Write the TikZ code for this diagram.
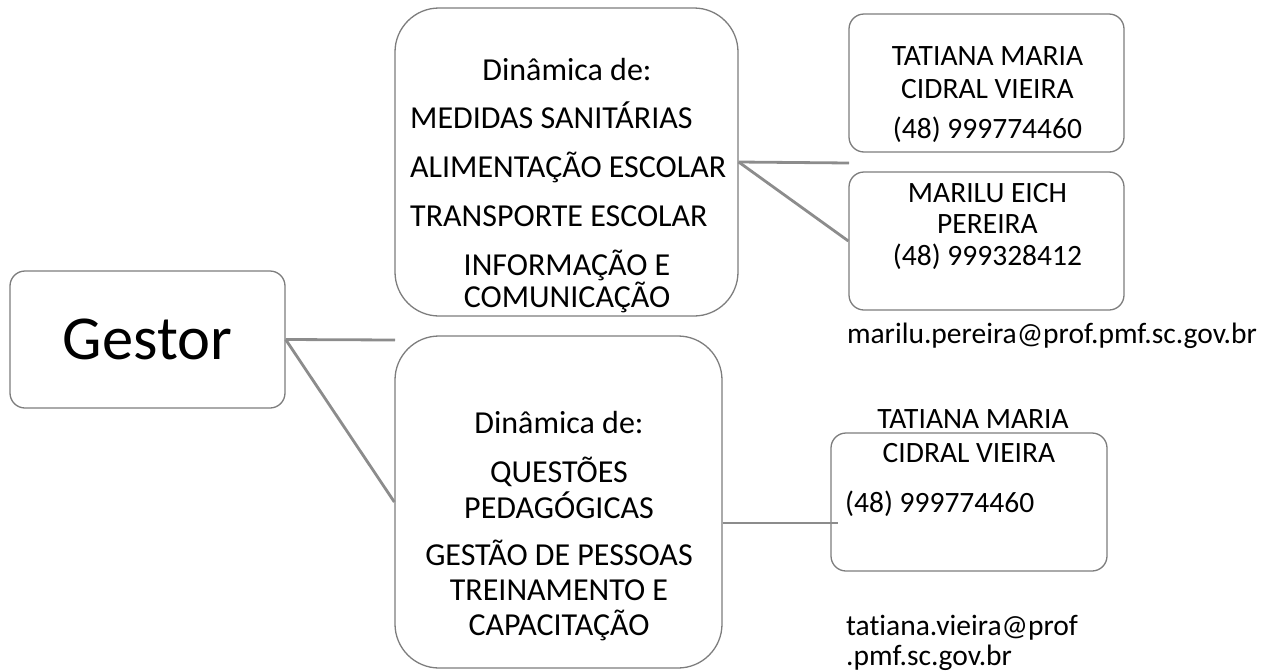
\documentclass[tikz,border=0pt]{standalone}
\usepackage{fontspec}
\setmainfont{Carlito}[Ligatures=NoCommon]
\usetikzlibrary{calc}
\definecolor{boxgray}{RGB}{125,125,125}
\definecolor{linegray}{RGB}{140,140,140}
\tikzset{
  box/.style={draw=boxgray, line width=1.3pt, fill=white, inner sep=0pt, rectangle},
  smallbox/.style={box, rounded corners=15pt},
  bigbox/.style={box, rounded corners=44pt},
  conn/.style={draw=linegray, line width=2.8pt},
  midtxt/.style={anchor=base, inner sep=0pt, font=\fontsize{32}{32}\selectfont},
  midleft/.style={anchor=base west, inner sep=0pt, font=\fontsize{32}{32}\selectfont},
  rtxt/.style={anchor=base, inner sep=0pt, font=\fontsize{29.5}{29.5}\selectfont},
  rleft/.style={anchor=base west, inner sep=0pt, font=\fontsize{29.5}{29.5}\selectfont},
}
\begin{document}
\begin{tikzpicture}[x=1pt, y=-1pt]
\useasboundingbox (0,0) rectangle (1278,670);

% boxes
\node[smallbox, minimum width=275pt, minimum height=137pt, font=\fontsize{62.5}{62.5}\selectfont] (gestor) at (147.5,339.5) {Gestor};
\node[bigbox, minimum width=343pt, minimum height=308pt] (mid1) at (566.5,162) {};
\node[bigbox, minimum width=327pt, minimum height=332pt] (mid2) at (558.5,502) {};
\node[smallbox, minimum width=275pt, minimum height=138pt] (r1) at (986.5,83) {};
\node[smallbox, minimum width=275pt, minimum height=138pt] (r2) at (986.5,241) {};
\node[smallbox, minimum width=276pt, minimum height=138pt] (r3) at (969,502) {};

% connector free ends
\coordinate (e1) at (395,340);
\coordinate (e2) at (849,163);
\coordinate (e3) at (838,523);

% connectors
\draw[conn] (gestor.east) -- (e1);
\draw[conn] (gestor.east) -- (mid2.west);
\draw[conn] (mid1.east) -- (e2);
\draw[conn] (mid1.east) -- (r2.west);
\draw[conn] (mid2.east |- e3) -- (e3);

% top middle box text
\node[midtxt] (m1a) at (567,80) {Dinâmica de:};
\node[midleft] (m1b) at (410,128) {MEDIDAS SANITÁRIAS};
\node[midleft] (m1c) at (410,177) {ALIMENTAÇÃO ESCOLAR};
\node[midleft] (m1d) at (410,226) {TRANSPORTE ESCOLAR};
\node[midtxt] (m1e) at (567,275) {INFORMAÇÃO E};
\node[midtxt] (m1f) at (567,307) {COMUNICAÇÃO};

% bottom middle box text
\node[midtxt] (m2a) at (559,433) {Dinâmica de:};
\node[midtxt] (m2b) at (559,482) {QUESTÕES};
\node[midtxt] (m2c) at (559,518) {PEDAGÓGICAS};
\node[midtxt] (m2d) at (559,565) {GESTÃO DE PESSOAS};
\node[midtxt] (m2e) at (559,600) {TREINAMENTO E};
\node[midtxt] (m2f) at (559,635) {CAPACITAÇÃO};

% right box 1
\node[rtxt] (r1a) at (987.5,65) {TATIANA MARIA};
\node[rtxt] (r1b) at (987.5,98) {CIDRAL VIEIRA};
\node[rtxt] (r1c) at (987.5,138) {(48) 999774460};

% right box 2
\node[rtxt] (r2a) at (987.5,202) {MARILU EICH};
\node[rtxt] (r2b) at (987.5,233) {PEREIRA};
\node[rtxt] (r2c) at (987.5,265) {(48) 999328412};
\node[rtxt] (r2d) at (1052,343) {marilu.pereira@prof.pmf.sc.gov.br};

% right box 3
\node[rtxt] (r3a) at (973,428) {TATIANA MARIA};
\node[rtxt] (r3b) at (969,462) {CIDRAL VIEIRA};
\node[rleft] (r3c) at (845,512) {(48) 999774460};
\node[rleft] (r3d) at (846,635) {tatiana.vieira@prof};
\node[rleft] (r3e) at (846,665) {.pmf.sc.gov.br};
\end{tikzpicture}
\end{document}
